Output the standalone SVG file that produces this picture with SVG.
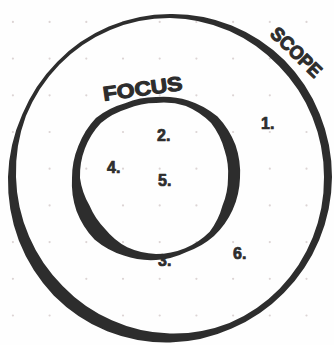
<svg xmlns="http://www.w3.org/2000/svg" width="334" height="345" viewBox="0 0 334 345">
<style>
.ink{fill:#2d2d2d}
.lbl{fill:#2d2d2d;stroke:#2d2d2d;stroke-linejoin:round;font-family:"Liberation Sans",Arial,sans-serif;font-weight:bold}
.num{font-size:16px;stroke-width:0.7}
.dot{fill:#dcd4d4}
</style>
<rect width="334" height="345" fill="#fefefe"/>
<g id="grid">
<g class="dot">
<circle cx="12.9" cy="21.9" r="1.1"/><circle cx="49.6" cy="21.9" r="1.1"/><circle cx="86.3" cy="21.9" r="1.1"/><circle cx="123" cy="21.9" r="1.1"/><circle cx="159.7" cy="21.9" r="1.1"/><circle cx="196.4" cy="21.9" r="1.1"/><circle cx="233.1" cy="21.9" r="1.1"/><circle cx="269.8" cy="21.9" r="1.1"/><circle cx="306.5" cy="21.9" r="1.1"/>
<circle cx="12.9" cy="58.6" r="1.1"/><circle cx="49.6" cy="58.6" r="1.1"/><circle cx="86.3" cy="58.6" r="1.1"/><circle cx="123" cy="58.6" r="1.1"/><circle cx="159.7" cy="58.6" r="1.1"/><circle cx="196.4" cy="58.6" r="1.1"/><circle cx="233.1" cy="58.6" r="1.1"/><circle cx="269.8" cy="58.6" r="1.1"/><circle cx="306.5" cy="58.6" r="1.1"/>
<circle cx="12.9" cy="95.3" r="1.1"/><circle cx="49.6" cy="95.3" r="1.1"/><circle cx="86.3" cy="95.3" r="1.1"/><circle cx="123" cy="95.3" r="1.1"/><circle cx="159.7" cy="95.3" r="1.1"/><circle cx="196.4" cy="95.3" r="1.1"/><circle cx="233.1" cy="95.3" r="1.1"/><circle cx="269.8" cy="95.3" r="1.1"/><circle cx="306.5" cy="95.3" r="1.1"/>
<circle cx="12.9" cy="132" r="1.1"/><circle cx="49.6" cy="132" r="1.1"/><circle cx="86.3" cy="132" r="1.1"/><circle cx="123" cy="132" r="1.1"/><circle cx="159.7" cy="132" r="1.1"/><circle cx="196.4" cy="132" r="1.1"/><circle cx="233.1" cy="132" r="1.1"/><circle cx="269.8" cy="132" r="1.1"/><circle cx="306.5" cy="132" r="1.1"/>
<circle cx="12.9" cy="168.7" r="1.1"/><circle cx="49.6" cy="168.7" r="1.1"/><circle cx="86.3" cy="168.7" r="1.1"/><circle cx="123" cy="168.7" r="1.1"/><circle cx="159.7" cy="168.7" r="1.1"/><circle cx="196.4" cy="168.7" r="1.1"/><circle cx="233.1" cy="168.7" r="1.1"/><circle cx="269.8" cy="168.7" r="1.1"/><circle cx="306.5" cy="168.7" r="1.1"/>
<circle cx="12.9" cy="205.4" r="1.1"/><circle cx="49.6" cy="205.4" r="1.1"/><circle cx="86.3" cy="205.4" r="1.1"/><circle cx="123" cy="205.4" r="1.1"/><circle cx="159.7" cy="205.4" r="1.1"/><circle cx="196.4" cy="205.4" r="1.1"/><circle cx="233.1" cy="205.4" r="1.1"/><circle cx="269.8" cy="205.4" r="1.1"/><circle cx="306.5" cy="205.4" r="1.1"/>
<circle cx="12.9" cy="242.1" r="1.1"/><circle cx="49.6" cy="242.1" r="1.1"/><circle cx="86.3" cy="242.1" r="1.1"/><circle cx="123" cy="242.1" r="1.1"/><circle cx="159.7" cy="242.1" r="1.1"/><circle cx="196.4" cy="242.1" r="1.1"/><circle cx="233.1" cy="242.1" r="1.1"/><circle cx="269.8" cy="242.1" r="1.1"/><circle cx="306.5" cy="242.1" r="1.1"/>
<circle cx="12.9" cy="278.8" r="1.1"/><circle cx="49.6" cy="278.8" r="1.1"/><circle cx="86.3" cy="278.8" r="1.1"/><circle cx="123" cy="278.8" r="1.1"/><circle cx="159.7" cy="278.8" r="1.1"/><circle cx="196.4" cy="278.8" r="1.1"/><circle cx="233.1" cy="278.8" r="1.1"/><circle cx="269.8" cy="278.8" r="1.1"/><circle cx="306.5" cy="278.8" r="1.1"/>
<circle cx="12.9" cy="315.5" r="1.1"/><circle cx="49.6" cy="315.5" r="1.1"/><circle cx="86.3" cy="315.5" r="1.1"/><circle cx="123" cy="315.5" r="1.1"/><circle cx="159.7" cy="315.5" r="1.1"/><circle cx="196.4" cy="315.5" r="1.1"/><circle cx="233.1" cy="315.5" r="1.1"/><circle cx="269.8" cy="315.5" r="1.1"/><circle cx="306.5" cy="315.5" r="1.1"/>
</g>
</g>
<g id="scope">
<path class="ink" fill-rule="evenodd" d="M332,177 A162,165 0 0 1 319.2,240 A162,165 0 0 1 283.8,293 A161,164 0 0 1 231.7,328.5 A163,166 0 0 1 170,342.5 A164,167 0 0 1 107.2,331.3 A164,167 0 0 1 53.7,295.4 A164,167 0 0 1 18.9,240.8 A163,166 0 0 1 8,177 A161,164 0 0 1 22.2,114.6 A160,163 0 0 1 57.1,61.9 A160,163 0 0 1 108.8,26.6 A160,163 0 0 1 170,14 A161,164 0 0 1 231.7,25.5 A162,165 0 0 1 284.5,60.3 A162,165 0 0 1 319.7,113.9 A162,165 0 0 1 332,177 Z M324,177 A154,157 0 0 0 312.3,116.9 A154,157 0 0 0 278.9,66 A155,158 0 0 0 229.4,31 A156,159 0 0 0 170,18 A156,159 0 0 0 110.2,29.9 A156,159 0 0 0 59.5,64.4 A156,159 0 0 0 25.9,116.1 A155,158 0 0 0 16,177 A153,156 0 0 0 29.1,236.6 A152,155 0 0 0 62.9,286.2 A152,155 0 0 0 111.8,320.2 A154,157 0 0 0 170,333.5 A155,158 0 0 0 229.4,323 A155,158 0 0 0 279.6,288.7 A154,157 0 0 0 312.8,237.3 A154,157 0 0 0 324,177 Z"/>
<text class="lbl" font-size="19" stroke-width="1" transform="translate(269,35) rotate(44)" textLength="63" lengthAdjust="spacingAndGlyphs">SCOPE</text>
</g>
<g id="focus">
<path class="ink" fill-rule="evenodd" d="M240,178 A84,84 0 0 1 232.7,209.8 A83,83 0 0 1 214,236 A81,81 0 0 1 186.6,251.9 A81,81 0 0 1 156,260 A83,83 0 0 1 123.8,255.6 A85,85 0 0 1 94.5,239.5 A86,86 0 0 1 76.5,210.9 A85,85 0 0 1 72,178 A84,84 0 0 1 78.4,145.8 A84,84 0 0 1 95.9,117.9 A83,83 0 0 1 125,103.2 A81,81 0 0 1 156,97 A82,82 0 0 1 188.2,100.4 A85,85 0 0 1 217.5,116.5 A86,86 0 0 1 235.5,145.1 A85,85 0 0 1 240,178 Z M228,178 A73,73 0 0 0 224.4,149.7 A76,76 0 0 0 211.1,122.9 A78,78 0 0 0 185.9,105.9 A76,76 0 0 0 156,103 A75,75 0 0 0 127.3,108.7 A76,76 0 0 0 100.9,122.9 A77,77 0 0 0 84.9,148.5 A76,76 0 0 0 80,178 A74,74 0 0 0 89.5,205.6 A72,72 0 0 0 105.1,228.9 A73,73 0 0 0 127.3,247.3 A75,75 0 0 0 156,254 A76,76 0 0 0 185.1,248.2 A76,76 0 0 0 209.7,231.7 A74,74 0 0 0 222.5,205.6 A72,72 0 0 0 228,178 Z"/>
<text class="lbl" font-size="20" stroke-width="1.1" transform="translate(104,101) rotate(-8)" textLength="80" lengthAdjust="spacingAndGlyphs">FOCUS</text>
</g>
<g id="items">
<g id="item1"><text class="lbl num" x="261" y="129">1.</text></g>
<g id="item2"><text class="lbl num" x="157" y="141">2.</text></g>
<g id="item3"><text class="lbl num" x="158" y="266">3.</text></g>
<g id="item4"><text class="lbl num" x="107" y="173">4.</text></g>
<g id="item5"><text class="lbl num" x="158" y="186">5.</text></g>
<g id="item6"><text class="lbl num" x="233" y="259">6.</text></g>
</g>
</svg>
